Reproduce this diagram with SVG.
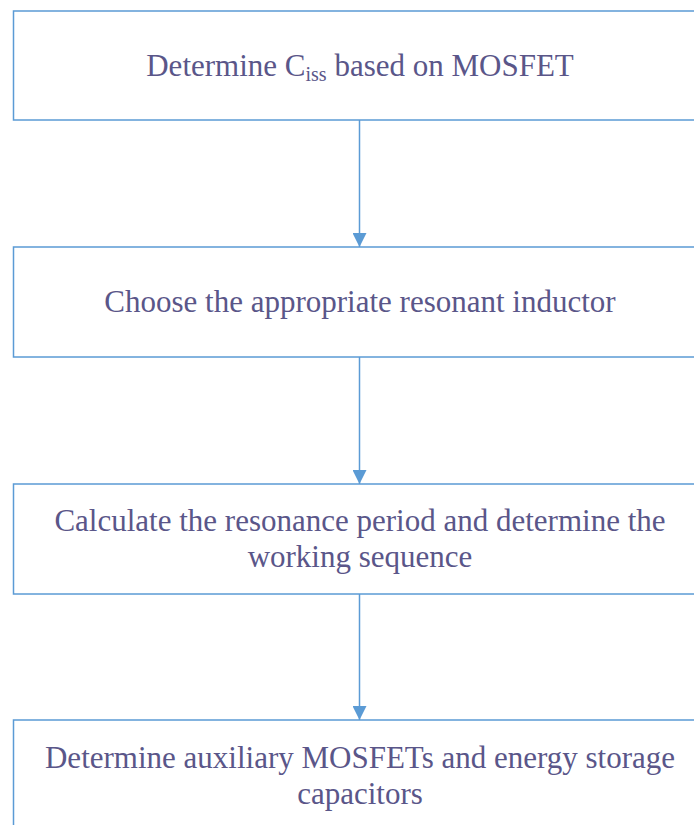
<svg xmlns="http://www.w3.org/2000/svg" width="694" height="825" viewBox="0 0 694 825">
<defs>
<style>
.box{fill:#ffffff;stroke:#5B9BD5;stroke-width:1.5}
.lbl{font-family:"Liberation Serif","Times New Roman",serif;font-size:31px;fill:#5A5689;text-anchor:middle}
.con{stroke:#5B9BD5;stroke-width:1.5;fill:none}
</style>
<marker id="ah" viewBox="0 0 14 14" refX="14" refY="7" markerWidth="14" markerHeight="14" markerUnits="userSpaceOnUse" orient="auto">
<path d="M0,0 L14,7 L0,14 Z" fill="#5B9BD5"/>
</marker>
</defs>
<rect width="694" height="825" fill="#ffffff"/>
<g id="connectors">
<line class="con" x1="359.5" y1="120" x2="359.5" y2="247" marker-end="url(#ah)"/>
<line class="con" x1="359.5" y1="357" x2="359.5" y2="484" marker-end="url(#ah)"/>
<line class="con" x1="359.5" y1="594" x2="359.5" y2="720" marker-end="url(#ah)"/>
</g>
<g id="node1">
<rect class="box" x="13.5" y="11" width="692" height="109"/>
<text class="lbl" x="360" y="76">Determine C<tspan font-size="20px" dy="5">iss</tspan><tspan dy="-5"> based on MOSFET</tspan></text>
</g>
<g id="node2">
<rect class="box" x="13.5" y="247" width="692" height="110"/>
<text class="lbl" x="360" y="312">Choose the appropriate resonant inductor</text>
</g>
<g id="node3">
<rect class="box" x="13.5" y="484" width="692" height="110"/>
<text class="lbl" x="360" y="531">Calculate the resonance period and determine the</text>
<text class="lbl" x="360" y="567">working sequence</text>
</g>
<g id="node4">
<rect class="box" x="13.5" y="720" width="692" height="110"/>
<text class="lbl" x="360" y="768">Determine auxiliary MOSFETs and energy storage</text>
<text class="lbl" x="360" y="804">capacitors</text>
</g>
</svg>
